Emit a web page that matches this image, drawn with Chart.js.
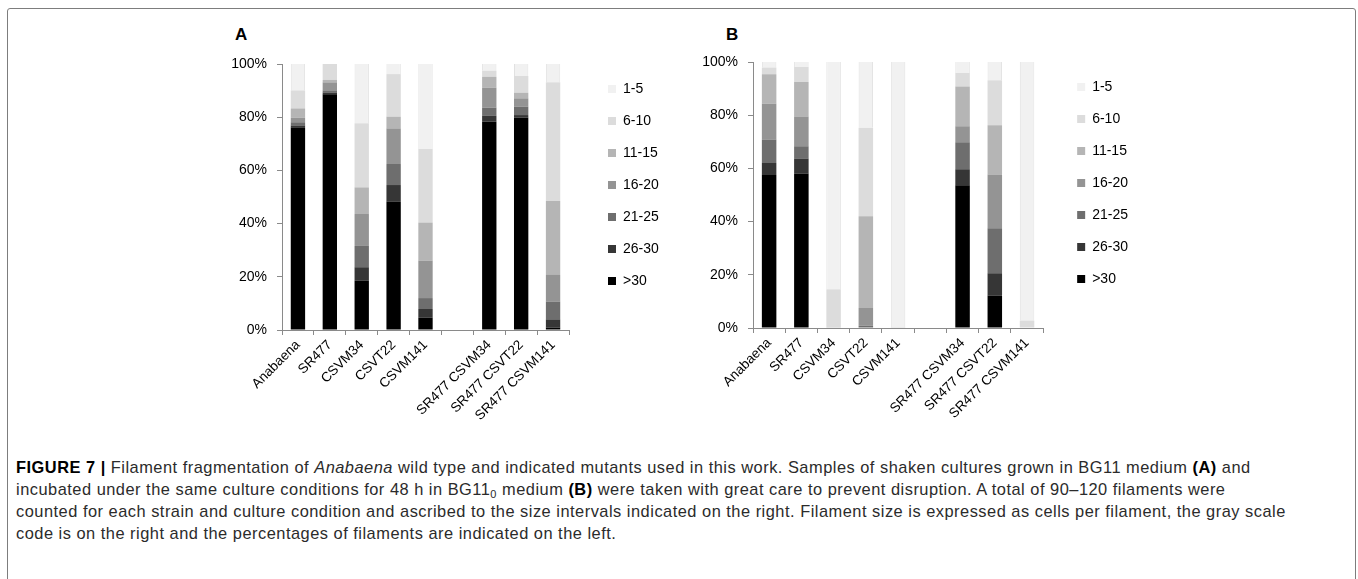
<!DOCTYPE html>
<html>
<head>
<meta charset="utf-8">
<script src="https://cdn.jsdelivr.net/npm/chart.js@4.4.0/dist/chart.umd.min.js"></script>
<style>
  body { margin: 0; width: 1358px; height: 579px; background: #fff; overflow: hidden; position: relative; font-family: "Liberation Sans", Arial, sans-serif; }
  .frame { position: absolute; left: 7px; top: 8px; width: 1347px; height: 640px; border: 1px solid #7d7d7d; border-radius: 3px; }
  .panel { position: absolute; }
  .letter { position: absolute; font-weight: bold; font-size: 17px; line-height: 17px; color: #000; }
  .caption { position: absolute; left: 16px; top: 456px; font-family: "Liberation Sans", Arial, sans-serif; font-size: 16.4px; letter-spacing: 0.5px; line-height: 22px; color: #2b2b2b; white-space: nowrap; }
  .caption div { height: 22px; }
  .caption b { color: #000; }
  .caption sub { font-size: 11px; line-height: 0; vertical-align: -3px; }
</style>
</head>
<body>
<div class="frame"></div>
<div class="letter" style="left:235px; top:26px;">A</div>
<div class="letter" style="left:726px; top:26px;">B</div>
<div class="panel" style="left:200px; top:0px;"><canvas id="chartA" width="478" height="430"></canvas></div>
<div class="panel" style="left:680px; top:-2px;"><canvas id="chartB" width="465" height="430"></canvas></div>
<div class="caption">
  <div><b>FIGURE 7 |</b> Filament fragmentation of <i>Anabaena</i> wild type and indicated mutants used in this work. Samples of shaken cultures grown in BG11 medium <b>(A)</b> and</div>
  <div>incubated under the same culture conditions for 48 h in BG11<sub>0</sub> medium <b>(B)</b> were taken with great care to prevent disruption. A total of 90–120 filaments were</div>
  <div>counted for each strain and culture condition and ascribed to the size intervals indicated on the right. Filament size is expressed as cells per filament, the gray scale</div>
  <div>code is on the right and the percentages of filaments are indicated on the left.</div>
</div>
<script>
// STRAINS (empty slot separates single and double mutants)
const strains = ["Anabaena", "SR477", "CSVM34", "CSVT22", "CSVM141", "", "SR477 CSVM34", "SR477 CSVT22", "SR477 CSVM141"];
const sizeClasses = [">30", "26-30", "21-25", "16-20", "11-15", "6-10", "1-5"];
const grays = ["#000000", "#363636", "#6e6e6e", "#949494", "#b5b5b5", "#dcdcdc", "#f1f1f1"];
const yTicks = [0, 20, 40, 60, 80, 100];

// PANEL A - BG11 (percent of filaments)
const a_over30 = [76.0, 88.6, 18.5, 48.2, 4.6, null, 78.3, 79.8, 0.9];
const a_26_30  = [0.9, 0.7, 5.1, 6.3, 3.3, null, 2.2, 1.0, 3.1];
const a_21_25  = [1.2, 0.8, 8.0, 7.9, 4.1, null, 3.1, 3.2, 6.7];
const a_16_20  = [1.7, 3.0, 12.0, 13.4, 14.1, null, 7.5, 3.1, 10.0];
const a_11_15  = [3.5, 0.9, 10.0, 4.4, 14.3, null, 4.1, 2.1, 27.8];
const a_6_10   = [6.8, 6.0, 24.1, 16.0, 27.6, null, 2.3, 6.3, 44.6];
const a_1_5    = [9.9, 0.0, 22.3, 3.8, 32.0, null, 2.5, 4.5, 6.9];

// PANEL B - BG11(0)
const b_over30 = [57.5, 58.1, 0, 0, 0, null, 53.7, 12.2, 0];
const b_26_30  = [4.5, 5.6, 0, 0, 0, null, 6.0, 8.4, 0];
const b_21_25  = [8.9, 4.6, 0, 0.8, 0, null, 10.1, 16.9, 0];
const b_16_20  = [13.4, 11.2, 0, 6.7, 0, null, 6.0, 20.2, 0];
const b_11_15  = [11.1, 13.0, 0.3, 34.5, 0.3, null, 15.0, 18.5, 0];
const b_6_10   = [2.5, 5.6, 14.3, 33.3, 0, null, 5.1, 16.9, 2.8];
const b_1_5    = [2.1, 1.9, 85.4, 24.7, 99.7, null, 4.1, 6.9, 97.2];

const FONT = "'Liberation Sans', Arial, sans-serif";
const AXIS = "#8a8a8a";

function makeChart(id, series, yWidth, gapWidth) {
  new Chart(document.getElementById(id), {
    type: "bar",
    data: {
      labels: strains,
      datasets: series.map((values, i) => ({
        label: sizeClasses[i],
        data: values,
        backgroundColor: grays[i],
        // lightest class gets faint side edges like the original bars
        borderColor: "#e1e1e1",
        borderWidth: i === series.length - 1 ? { left: 1, right: 1, top: 0, bottom: 0 } : 0,
        borderSkipped: false,
        categoryPercentage: 1.0,
        barPercentage: 0.45
      }))
    },
    options: {
      responsive: false,
      animation: false,
      layout: { padding: { top: 64, right: 10, left: 0, bottom: 0 } },
      plugins: {
        tooltip: { enabled: false },
        legend: {
          position: "right",
          align: "start",
          reverse: true,
          labels: {
            color: "#000",
            boxWidth: 8,
            boxHeight: 8,
            padding: 18,
            font: { family: FONT, size: 14 },
            generateLabels: chart => chart.data.datasets.map((ds, i) => ({
              text: ds.label,
              fillStyle: ds.backgroundColor,
              strokeStyle: ds.backgroundColor,
              lineWidth: 0,
              fontColor: "#000",
              datasetIndex: i
            }))
          }
        }
      },
      scales: {
        x: {
          stacked: true,
          grid: { drawOnChartArea: false, drawTicks: true, tickLength: 5, color: AXIS, offset: true },
          border: { color: AXIS },
          ticks: { autoSkip: false, minRotation: 45, maxRotation: 45, color: "#000", padding: 2, font: { family: FONT, size: 13.5 } },
          afterFit: s => { s.height = 100; }
        },
        y: {
          stacked: true,
          min: 0,
          max: 100,
          afterBuildTicks: s => { s.ticks = yTicks.map(v => ({ value: v })); },
          grid: { drawOnChartArea: false, drawTicks: true, tickLength: 5, color: AXIS },
          border: { color: AXIS },
          ticks: { color: "#000", padding: 10, font: { family: FONT, size: 14 }, callback: v => v + "%" },
          afterFit: s => { s.width = yWidth; }
        },
        gap: {
          type: "linear",
          position: "right",
          display: true,
          grid: { display: false },
          border: { display: false },
          ticks: { display: false },
          afterFit: s => { s.width = gapWidth; }
        }
      }
    }
  });
}

makeChart("chartA", [a_over30, a_26_30, a_21_25, a_16_20, a_11_15, a_6_10, a_1_5], 82, 21);
makeChart("chartB", [b_over30, b_26_30, b_21_25, b_16_20, b_11_15, b_6_10, b_1_5], 73, 16);
</script>
</body>
</html>
